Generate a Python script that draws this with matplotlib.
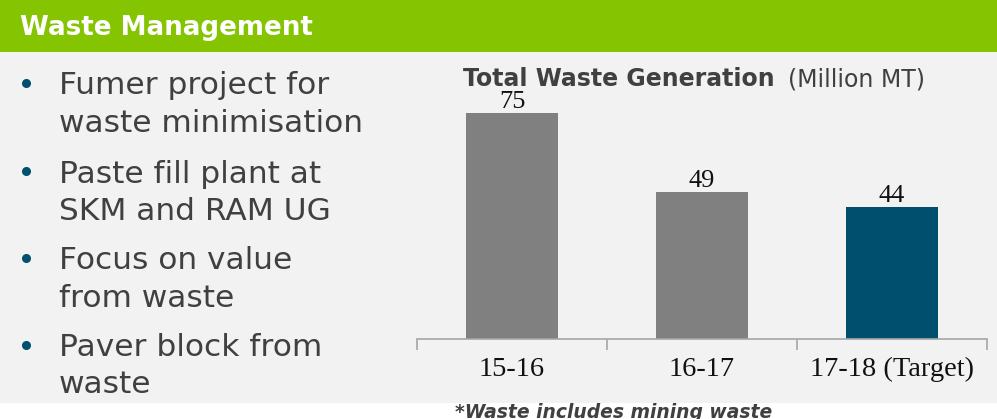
import matplotlib.pyplot as plt
from matplotlib.patches import Rectangle
from matplotlib.lines import Line2D

years = ['15-16', '16-17', '17-18 (Target)']
waste = [75, 49, 44]
bar_colors = ['#808080', '#808080', '#004F6E']
bullets = [['Fumer project for', 'waste minimisation'],
           ['Paste fill plant at', 'SKM and RAM UG'],
           ['Focus on value', 'from waste'],
           ['Paver block from', 'waste']]

W, H = 997, 419
fig = plt.figure(figsize=(W / 100, H / 100), dpi=100)
fig.patch.set_facecolor('white')

def fx(px):
    return px / W

def fy(py):
    return 1 - py / H

# backgrounds
fig.patches.append(Rectangle((0, fy(403)), 1, fy(52) - fy(403), transform=fig.transFigure,
                             facecolor='#F2F2F2', edgecolor='none', zorder=-5))
fig.patches.append(Rectangle((0, fy(52)), 1, 1 - fy(52), transform=fig.transFigure,
                             facecolor='#84C400', edgecolor='none', zorder=-5))
fig.text(fx(20), fy(35), 'Waste Management', color='white', fontsize=18.8,
         fontweight='bold', family='DejaVu Sans', va='baseline')

# bullet list
bullet_y = [83, 171, 258, 345]
line_y = [(94, 132), (183, 220), (269, 307), (356, 393)]
for by, lines, ly in zip(bullet_y, bullets, line_y):
    fig.add_artist(Line2D([fx(26)], [fy(by)], marker='o', markersize=5.5,
                          color='#00506E', transform=fig.transFigure))
    for txt, y in zip(lines, ly):
        fig.text(fx(59), fy(y), txt, color='#404040', fontsize=22.5,
                 family='DejaVu Sans', va='baseline', ha='left')

# chart
ax = fig.add_axes([fx(417), fy(339), fx(570), fy(60) - fy(339)])
ax.set_zorder(2)
ax.set_facecolor('none')
x = range(len(years))
bars = ax.bar(x, waste, width=0.485, color=bar_colors, edgecolor='none', zorder=2)
ax.set_xlim(-0.5, 2.5)
ax.set_ylim(0, 279 / 3.01)
for b, v in zip(bars, waste):
    ax.text(b.get_x() + b.get_width() / 2, v + 1.6, str(v), ha='center', va='baseline',
            family='Liberation Serif', fontsize=19, color='#111111')

for s in ['top', 'left', 'right']:
    ax.spines[s].set_visible(False)
ax.spines['bottom'].set_color('#A6A6A6')
ax.spines['bottom'].set_linewidth(1.2)
ax.set_yticks([])
ax.set_xticks([-0.5, 0.5, 1.5, 2.5])
ax.set_xticklabels([])
ax.set_xticks(list(x), minor=True)
ax.set_xticklabels(years, minor=True, family='Liberation Serif', fontsize=20.5, color='#111111')
ax.tick_params(axis='x', which='major', direction='out', length=8, color='#A6A6A6', width=1.2)
ax.tick_params(axis='x', which='minor', length=0, pad=13)

fig.text(fx(463), fy(86), 'Total Waste Generation', fontweight='bold', fontsize=17,
         color='#404040', va='baseline', ha='left', family='DejaVu Sans')
fig.text(fx(788), fy(86), '(Million MT)', fontsize=17, color='#404040',
         va='baseline', ha='left', family='DejaVu Sans')

fig.text(fx(455), fy(418), '*Waste includes mining waste', fontsize=13.5,
         fontweight='bold', style='italic', color='#404040', va='baseline', ha='left',
         family='DejaVu Sans')

fig.savefig('out.png', dpi=100)
